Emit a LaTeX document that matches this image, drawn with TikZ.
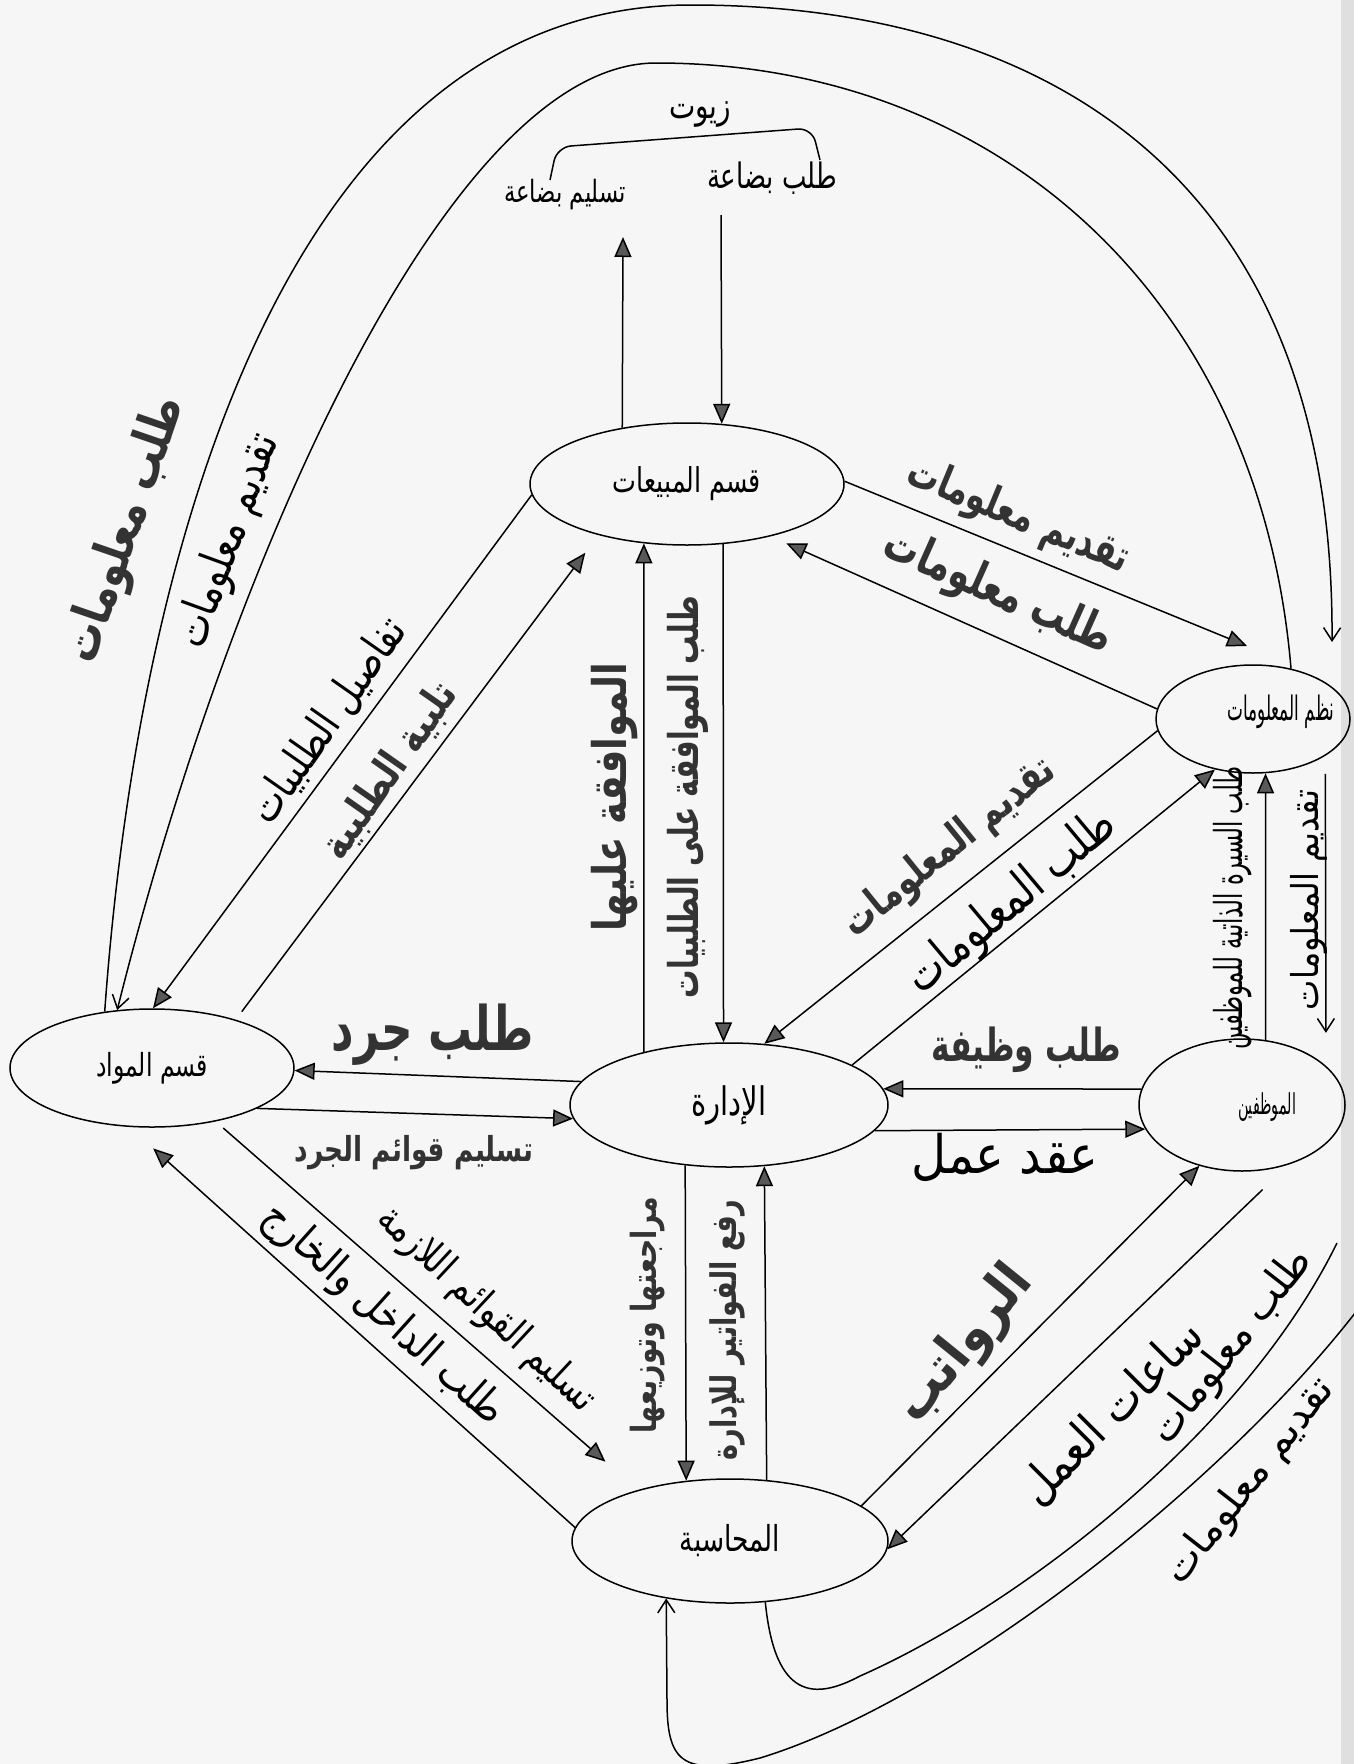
\documentclass[tikz,border=0pt]{standalone}
\usepackage{fontspec}
\usepackage{graphicx}
\usetikzlibrary{arrows.meta,shapes.geometric}
\TeXXeTstate=1
\newfontfamily\arf[Script=Arabic]{DejaVu Sans}
\newcommand\AR[3][1.3]{\scalebox{1}[#1]{\resizebox{#2}{!}{\arf #3}}}
\newcommand\ARB[3][1.35]{\scalebox{1}[#1]{\resizebox{#2}{!}{\color{black!80}\arf\bfseries #3}}}
\tikzset{
  proc/.style={draw, line width=1.5pt, ellipse, inner sep=0pt},
  lbl/.style={inner sep=0pt},
  conn/.style={line width=1.5pt},
  tri/.style={conn, -{Triangle[length=20pt,width=17pt,fill=gray!70!black]}},
  vee/.style={conn, -{Straight Barb[length=13pt,width=17pt]}},
}
\begin{document}
\begin{tikzpicture}[x=1pt,y=-1pt]
\fill[gray!7] (0,0) rectangle (1354,1764);
\useasboundingbox (0,0) rectangle (1354,1764);
\clip (0,0) rectangle (1354,1764);
\fill[gray!25] (1341,0) rectangle (1354,1764);

% nodes
\node[proc, minimum width=314pt, minimum height=122pt] (sales) at (687,484) {\AR[1.35]{148pt}{\beginR قسم المبيعات\endR}};
\node[proc, minimum width=318pt, minimum height=124pt] (adm) at (729,1105) {\AR[1.35]{75pt}{\beginR الإدارة\endR}};
\node[proc, minimum width=284pt, minimum height=118pt] (mat) at (152,1068) {\AR[1.35]{112pt}{\beginR قسم المواد\endR}};
\node[proc, minimum width=194pt, minimum height=108pt] (info) at (1253,719) {};
\node[lbl] (infot) at (1281,712) {\AR[2]{107pt}{\beginR نظم المعلومات\endR}};
\node[proc, minimum width=206pt, minimum height=132pt] (emp) at (1242,1105) {};
\node[lbl] (empt) at (1267,1107) {\AR[2]{58pt}{\beginR الموظفين\endR}};
\node[proc, minimum width=316pt, minimum height=124pt] (acc) at (730,1541) {\AR[1.35]{100pt}{\beginR المحاسبة\endR}};

% free ends
\coordinate (gIn) at (623,237);
\coordinate (gOut) at (721,215);
\coordinate (oaEnd) at (1332,642);
\coordinate (infoIn) at (1247,646);
\coordinate (icEnd) at (1337,1243);
\coordinate (ocStart) at (1365,1300);

% top: goods
\draw[tri] (sales.139) -- (gIn);
\draw[tri] (gOut) -- (sales.60.3);
\draw[conn, rounded corners=14pt] (550,180) -- (557,147) -- (812,128) -- (820,160);
\node[lbl] (zyt) at (700,115) {\AR[1.3]{62pt}{\beginR زيوت\endR}};
\node[lbl] (tslm) at (565,195) {\AR[1.35]{122pt}{\beginR تسليم بضاعة\endR}};
\node[lbl] (tlb) at (772,178) {\AR[1.35]{130pt}{\beginR طلب بضاعة\endR}};

% big arcs
\draw[vee] (mat.130) .. controls (140,520) and (300,5) .. (691,5)
  .. controls (1050,5) and (1335,180) .. (oaEnd);
\draw[vee] (info.53) .. controls (1260,300) and (1000,63) .. (656,63)
  .. controls (450,63) and (230,560) .. (mat.121);

% materials <-> sales
\draw[tri] (sales.184) -- (mat.89);
\draw[tri, shorten <=10pt, shorten >=22pt] (mat.30) -- (sales.210);
% sales <-> admin
\draw[tri] (adm.148) -- (sales.234.5);
\draw[tri] (sales.301.2) -- (adm.95.5);
% sales <-> info
\draw[tri] (sales.1.5) -- (infoIn);
\draw[tri, shorten >=17pt] (info.174) -- (sales.328);
% info <-> admin
\draw[tri] (info.187) -- (adm.60);
\draw[tri] (adm.18) -- (info.233);
% employees <-> info
\draw[tri] (emp.70) -- (info.283);
\draw[vee, shorten <=18pt, shorten >=33pt] (info.333.3) -- (emp.25.2);
% employees <-> admin
\draw[tri] (emp.171) -- (adm.6);
\draw[tri] (adm.350) -- (emp.194.5);
% materials <-> admin
\draw[tri] (adm.171) -- (mat.359);
\draw[tri] (mat.339) -- (adm.185);
% materials <-> accounting
\draw[tri, shorten <=10pt, shorten >=43pt] (mat.320) -- (acc.151);
\draw[tri, shorten >=32pt] (acc.175) -- (mat.249.4);
% admin <-> accounting
\draw[tri] (adm.234.2) -- (acc.126.5);
\draw[tri] (acc.59.9) -- (adm.300.8);
% accounting <-> employees
\draw[tri] (acc.15) -- (emp.235.5);
\draw[tri, shorten <=36pt] (emp.308.5) -- (acc.357);
% bottom curves
\draw[conn] (acc.300) .. controls (775,1700) and (815,1700) .. (860,1676)
  .. controls (1010,1610) and (1240,1440) .. (icEnd);
\draw[vee] (ocStart) .. controls (1230,1480) and (950,1700) .. (760,1758)
  .. controls (680,1778) and (667,1760) .. (667,1700) -- (acc.222);

% labels
\node[lbl, rotate=71] (tMat1) at (126,530) {\ARB[1.3]{278pt}{\beginR طلب معلومات\endR}};
\node[lbl, rotate=70] (tMat2) at (229,541) {\AR[1.3]{224pt}{\beginR تقديم معلومات\endR}};
\node[lbl, rotate=55] (tTaf) at (328,721) {\AR[1.3]{239pt}{\beginR تفاصيل الطلبيات\endR}};
\node[lbl, rotate=55] (tTal) at (390,771) {\ARB[1.25]{206pt}{\beginR تلبية الطلبية\endR}};
\node[lbl, rotate=90] (tMuw) at (615,797) {\ARB[1.25]{268pt}{\beginR الموافقة عليها\endR}};
\node[lbl, rotate=90] (tTmw) at (688,797) {\ARB[1.45]{402pt}{\beginR طلب الموافقة على الطلبيات\endR}};
\node[lbl, rotate=-22.5] (tTq1) at (1018,517) {\ARB[1.4]{236pt}{\beginR تقديم معلومات\endR}};
\node[lbl, rotate=-24] (tTl1) at (998,593) {\ARB[1.4]{245pt}{\beginR طلب معلومات\endR}};
\node[lbl, rotate=39] (tTq2) at (950,848) {\ARB[1.35]{260pt}{\beginR تقديم المعلومات\endR}};
\node[lbl, rotate=40] (tTl2) at (1012,903) {\AR[1.3]{258pt}{\beginR طلب المعلومات\endR}};
\node[lbl, rotate=90] (tCv) at (1233,908) {\AR[1.7]{283pt}{\beginR طلب السيرة الذاتية للموظفين\endR}};
\node[lbl, rotate=90] (tTq3) at (1309,900) {\AR[1.15]{220pt}{\beginR تقديم المعلومات\endR}};
\node[lbl] (tJob) at (1026,1050) {\ARB[1.45]{190pt}{\beginR طلب وظيفة\endR}};
\node[lbl] (tCon) at (1005,1157) {\AR[1.1]{187pt}{\beginR عقد عمل\endR}};
\node[lbl] (tJrd) at (433,1035) {\ARB[1.4]{202pt}{\beginR طلب جرد\endR}};
\node[lbl] (tQw) at (414,1153) {\ARB[1.3]{239pt}{\beginR تسليم قوائم الجرد\endR}};
\node[lbl, rotate=-43] (tQl) at (486,1310) {\AR[1.25]{282pt}{\beginR تسليم القوائم اللازمة\endR}};
\node[lbl, rotate=-42] (tDk) at (383,1315) {\AR[1.2]{310pt}{\beginR طلب الداخل والخارج\endR}};
\node[lbl, rotate=90] (tMr) at (648,1315) {\ARB[1.3]{236pt}{\beginR مراجعتها وتوزيعها\endR}};
\node[lbl, rotate=90] (tRf) at (727,1330) {\ARB[1.3]{260pt}{\beginR رفع الفواتير للإدارة\endR}};
\node[lbl, rotate=51] (tRw) at (965,1345) {\ARB[1.1]{185pt}{\beginR الرواتب\endR}};
\node[lbl, rotate=45] (tSa) at (1112,1413) {\AR[1.15]{238pt}{\beginR ساعات العمل\endR}};
\node[lbl, rotate=52] (tTl3) at (1232,1347) {\AR[1.1]{236pt}{\beginR طلب معلومات\endR}};
\node[lbl, rotate=52] (tTq4) at (1250,1482) {\AR[1.0]{250pt}{\beginR تقديم معلومات\endR}};
\end{tikzpicture}
\end{document}
